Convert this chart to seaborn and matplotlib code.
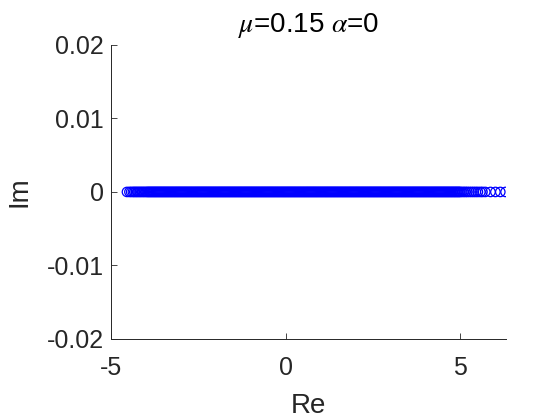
import matplotlib

matplotlib.use("Agg")
import matplotlib.pyplot as plt
import seaborn as sns

re_left_tail = [-4.54, -4.47, -4.42, -4.37, -4.33, -4.29, -4.25, -4.21, -4.17, -4.13,
                -4.09, -4.05, -4.01]
re_bulk = [
    -3.97, -3.94, -3.91, -3.88, -3.85, -3.82, -3.79, -3.76, -3.73, -3.70,
    -3.67, -3.64, -3.61, -3.58, -3.55, -3.52, -3.49, -3.46, -3.43, -3.40,
    -3.37, -3.34, -3.31, -3.28, -3.25, -3.22, -3.19, -3.16, -3.13, -3.10,
    -3.07, -3.04, -3.01, -2.98, -2.95, -2.92, -2.89, -2.86, -2.83, -2.80,
    -2.77, -2.74, -2.71, -2.68, -2.65, -2.62, -2.59, -2.56, -2.53, -2.50,
    -2.47, -2.44, -2.41, -2.38, -2.35, -2.32, -2.29, -2.26, -2.23, -2.20,
    -2.17, -2.14, -2.11, -2.08, -2.05, -2.02, -1.99, -1.96, -1.93, -1.90,
    -1.87, -1.84, -1.81, -1.78, -1.75, -1.72, -1.69, -1.66, -1.63, -1.60,
    -1.57, -1.54, -1.51, -1.48, -1.45, -1.42, -1.39, -1.36, -1.33, -1.30,
    -1.27, -1.24, -1.21, -1.18, -1.15, -1.12, -1.09, -1.06, -1.03, -1.00,
    -0.97, -0.94, -0.91, -0.88, -0.85, -0.82, -0.79, -0.76, -0.73, -0.70,
    -0.67, -0.64, -0.61, -0.58, -0.55, -0.52, -0.49, -0.46, -0.43, -0.40,
    -0.37, -0.34, -0.31, -0.28, -0.25, -0.22, -0.19, -0.16, -0.13, -0.10,
    -0.07, -0.04, -0.01, 0.02, 0.05, 0.08, 0.11, 0.14, 0.17, 0.20,
    0.23, 0.26, 0.29, 0.32, 0.35, 0.38, 0.41, 0.44, 0.47, 0.50,
    0.53, 0.56, 0.59, 0.62, 0.65, 0.68, 0.71, 0.74, 0.77, 0.80,
    0.83, 0.86, 0.89, 0.92, 0.95, 0.98, 1.01, 1.04, 1.07, 1.10,
    1.13, 1.16, 1.19, 1.22, 1.25, 1.28, 1.31, 1.34, 1.37, 1.40,
    1.43, 1.46, 1.49, 1.52, 1.55, 1.58, 1.61, 1.64, 1.67, 1.70,
    1.73, 1.76, 1.79, 1.82, 1.85, 1.88, 1.91, 1.94, 1.97, 2.00,
    2.03, 2.06, 2.09, 2.12, 2.15, 2.18, 2.21, 2.24, 2.27, 2.30,
    2.33, 2.36, 2.39, 2.42, 2.45, 2.48, 2.51, 2.54, 2.57, 2.60,
    2.63, 2.66, 2.69, 2.72, 2.75, 2.78, 2.81, 2.84, 2.87, 2.90,
    2.93, 2.96, 2.99, 3.02, 3.05, 3.08, 3.11, 3.14, 3.17, 3.20,
    3.23, 3.26, 3.29, 3.32, 3.35, 3.38, 3.41, 3.44, 3.47, 3.50,
    3.53, 3.56, 3.59, 3.62, 3.65, 3.68, 3.71, 3.74, 3.77, 3.80,
    3.83, 3.86, 3.89, 3.92, 3.95, 3.98, 4.01, 4.04, 4.07, 4.10,
    4.13, 4.16, 4.19, 4.22, 4.25, 4.28, 4.31, 4.34, 4.37, 4.40,
    4.43, 4.46, 4.49,
]
re_right_tail = [4.52, 4.55, 4.58, 4.61, 4.64, 4.67, 4.70, 4.73, 4.76, 4.79,
                 4.82, 4.85, 4.88, 4.91, 4.94, 4.97, 5.00, 5.05, 5.10, 5.15,
                 5.20, 5.26, 5.32, 5.38, 5.44, 5.50, 5.57, 5.63, 5.71, 5.86,
                 6.00, 6.14, 6.29]

re_vals = re_left_tail + re_bulk + re_right_tail
im_vals = [0.0] * len(re_vals)

x_ticks = [-5, 0, 5]
y_ticks = [-0.02, -0.01, 0, 0.01, 0.02]
y_tick_labels = ["-0.02", "-0.01", "0", "0.01", "0.02"]

sns.set_style("ticks")
plt.rcParams["font.family"] = ["Liberation Sans", "DejaVu Sans"]
plt.rcParams["mathtext.fontset"] = "stix"
plt.rcParams["xtick.direction"] = "in"
plt.rcParams["ytick.direction"] = "in"

fig = plt.figure(figsize=(5.6, 4.2), dpi=100)
ax = fig.add_axes([0.198, 0.193, 0.706, 0.700])

sns.scatterplot(
    x=re_vals,
    y=im_vals,
    marker="o",
    s=46,
    facecolors="none",
    edgecolors="#0000ff",
    linewidth=0.9,
    ax=ax,
)

ax.set_xlim(-5, 6.31)
ax.set_ylim(-0.02, 0.02)
ax.set_xticks(x_ticks)
ax.set_xticklabels([str(t) for t in x_ticks])
ax.set_yticks(y_ticks)
ax.set_yticklabels(y_tick_labels)
ax.tick_params(labelsize=18, colors="#262626", length=4, width=0.6)
ax.tick_params(axis="x", pad=12)
ax.tick_params(axis="y", pad=5)
for side in ["top", "right"]:
    ax.spines[side].set_visible(False)
for side in ["left", "bottom"]:
    ax.spines[side].set_color("#262626")
    ax.spines[side].set_linewidth(0.7)

ax.set_xlabel("Re", fontsize=20, color="#262626", labelpad=10)
ax.set_ylabel("Im", fontsize=20, color="#262626", labelpad=10)
ax.set_title(r"$\mu$=0.15 $\alpha$=0", fontsize=20, color="black", pad=9)

fig.savefig("out.png", dpi=100)
plt.close(fig)
